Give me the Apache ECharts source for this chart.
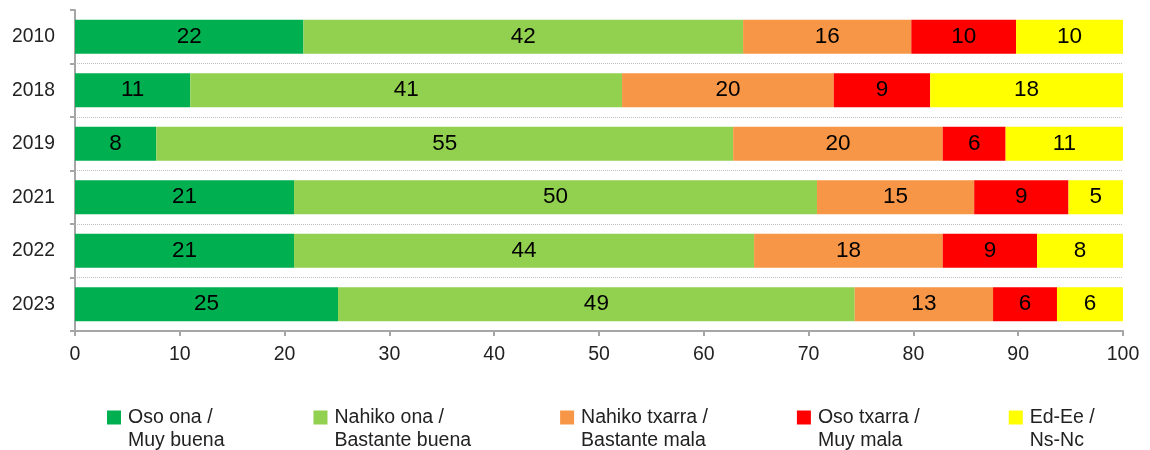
<!DOCTYPE html>
<html>
<head>
<meta charset="utf-8">
<script src="https://cdn.jsdelivr.net/npm/echarts@6/dist/echarts.min.js"></script>
<style>html,body{margin:0;padding:0;background:#fff}#c{width:1150px;height:450px}</style>
</head>
<body>
<div id="c"></div>
<script>
const categories = ['2010', '2018', '2019', '2021', '2022', '2023'];
const seriesNames = ['Oso ona /\nMuy buena', 'Nahiko ona /\nBastante buena', 'Nahiko txarra /\nBastante mala', 'Oso txarra /\nMuy mala', 'Ed-Ee /\nNs-Nc'];
const osoOna = [21.8, 11.0, 7.75, 20.9, 20.9, 25.1];
const nahikoOna = [41.95, 41.2, 55.05, 49.9, 43.9, 49.3];
const nahikoTxarra = [16.05, 20.2, 20.0, 15.0, 18.0, 13.2];
const osoTxarra = [10.0, 9.2, 6.0, 9.0, 9.0, 6.1];
const edEe = [10.2, 18.4, 11.2, 5.2, 8.2, 6.3];
const xTicks = [0, 10, 20, 30, 40, 50, 60, 70, 80, 90, 100];
const colors = ['#00b050', '#92d050', '#f79646', '#ff0000', '#ffff00'];

const allData = [osoOna, nahikoOna, nahikoTxarra, osoTxarra, edEe];
const FONT = 'Liberation Sans, Arial, sans-serif';
const chart = echarts.init(document.getElementById('c'));
chart.setOption({
  animation: false,
  textStyle: { fontFamily: FONT },
  grid: { left: 75, right: 27, top: 10, bottom: 119, containLabel: false },
  xAxis: {
    type: 'value', min: xTicks[0], max: xTicks[xTicks.length - 1], interval: 10,
    axisLine: { show: true, lineStyle: { color: '#a6a6a6', width: 2 } },
    axisTick: { show: true, length: 5, lineStyle: { color: '#a6a6a6', width: 2 } },
    axisLabel: { color: '#222', fontSize: 19.5, margin: 14, fontFamily: FONT },
    splitLine: { show: false }
  },
  yAxis: {
    type: 'category', inverse: true, data: categories,
    axisLine: { show: true, lineStyle: { color: '#a6a6a6', width: 2 } },
    axisTick: { show: true, length: 5, lineStyle: { color: '#a6a6a6', width: 2 } },
    axisLabel: { color: '#222', fontSize: 19.3, margin: 20, fontFamily: FONT },
    splitLine: { show: true, interval: (i) => i > 0, lineStyle: { color: '#bdbdbd', type: 'dotted', width: 1 } }
  },
  legend: {
    left: 107, top: 406, padding: 0, itemGap: 89, itemWidth: 16, itemHeight: 37,
    icon: 'path://M0,0h14v14h-14zM16,37L16,37',
    textStyle: { color: '#222', fontSize: 19.5, lineHeight: 23, fontFamily: FONT },
    data: seriesNames
  },
  series: seriesNames.map((n, i) => ({
    name: n, type: 'bar', stack: 'total', barWidth: 34,
    itemStyle: { color: colors[i] },
    label: { show: true, position: 'inside', color: '#000', fontSize: 22.5, fontFamily: FONT,
      formatter: p => Math.round(p.value) },
    data: allData[i]
  }))
});
</script>
</body>
</html>
